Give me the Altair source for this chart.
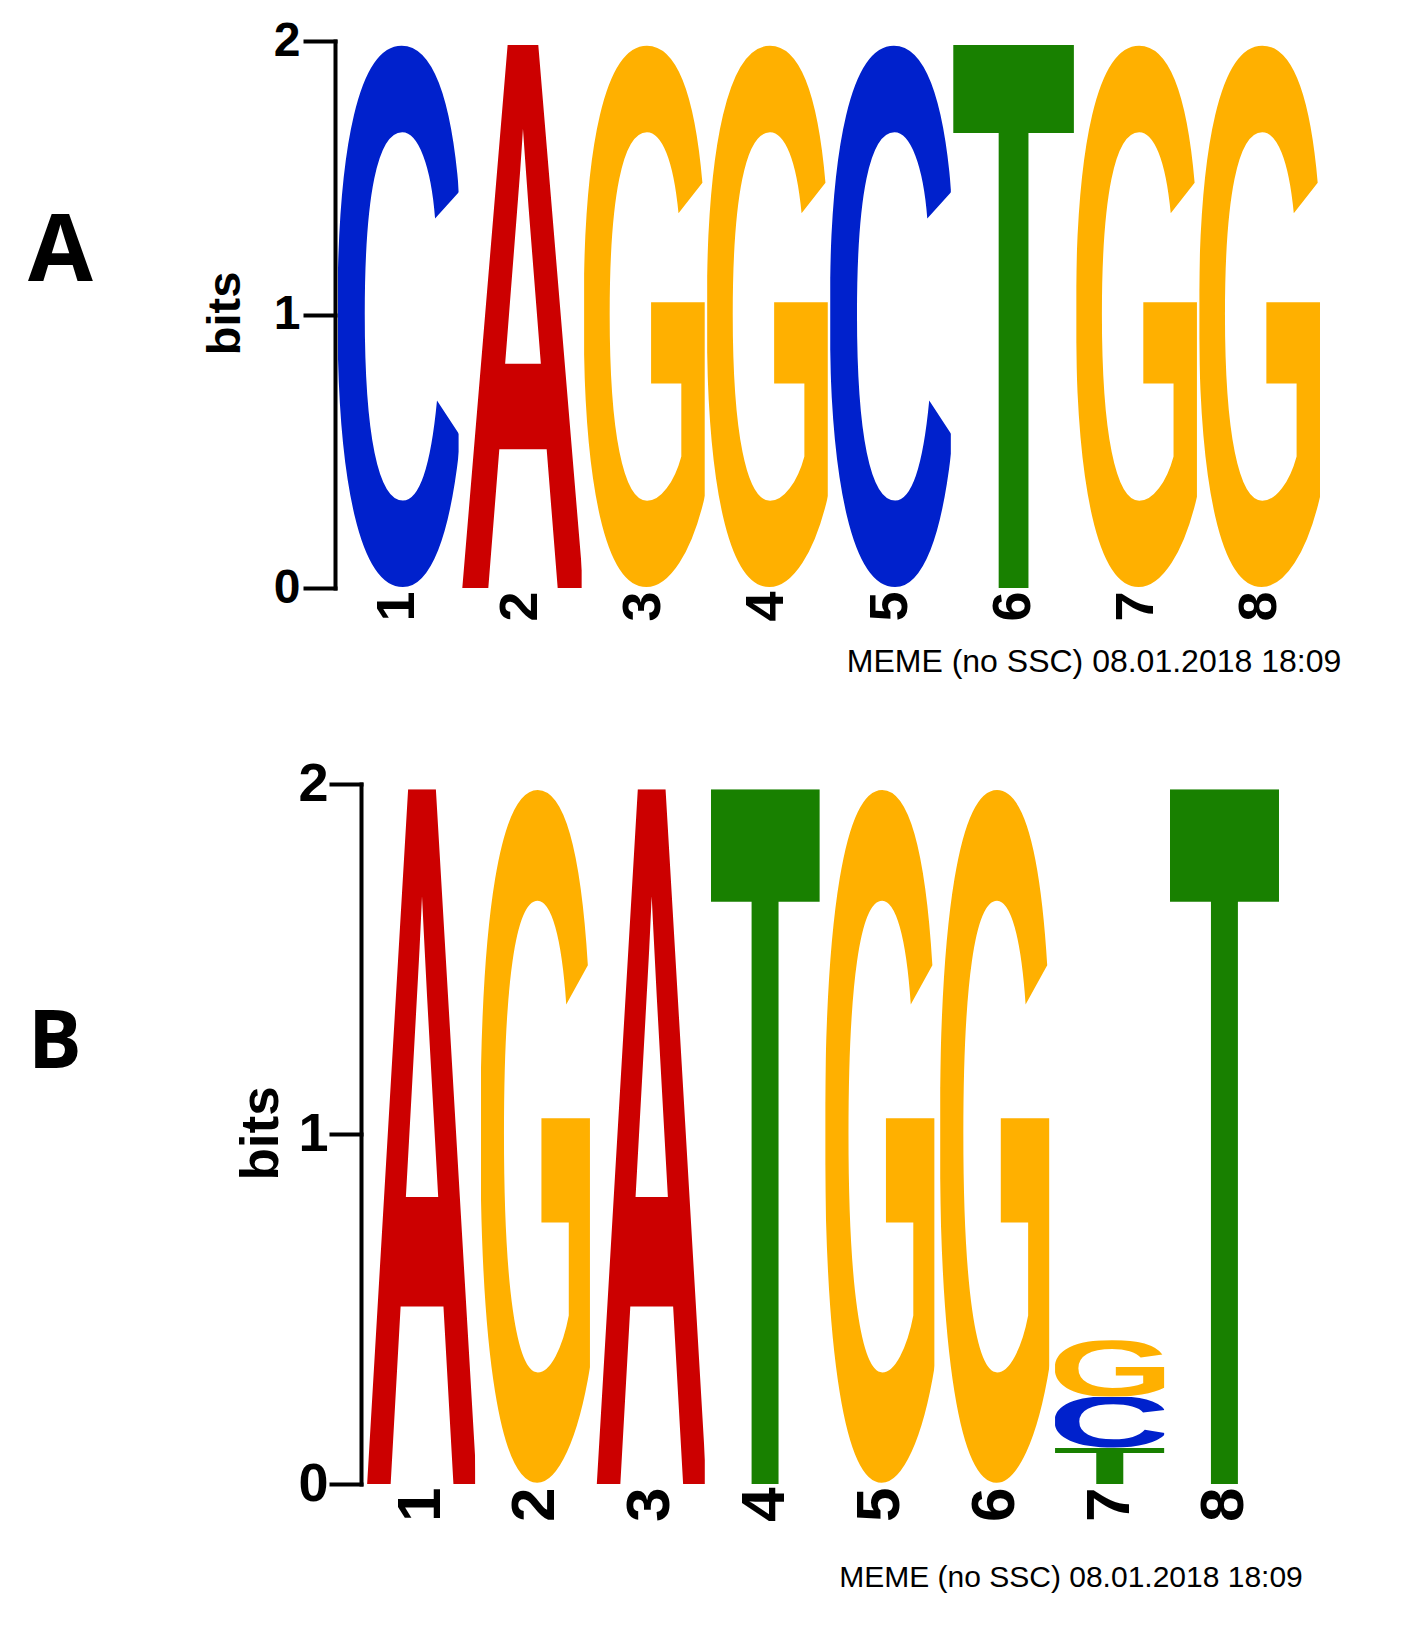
import base64
import altair as alt
import pandas as pd

# ---------------- data ----------------
positions = [1, 2, 3, 4, 5, 6, 7, 8]

a_pos = [1, 2, 3, 4, 5, 6, 7, 8]
a_letter = ["C", "A", "G", "G", "C", "T", "G", "G"]
a_bits = [1.985, 1.985, 1.985, 1.985, 1.985, 1.985, 1.985, 1.985]

b_pos = [1, 2, 3, 4, 5, 6, 7, 7, 7, 8]
b_letter = ["A", "G", "A", "T", "G", "G", "T", "C", "G", "T"]
b_bits = [1.985, 1.985, 1.985, 1.985, 1.985, 1.985, 0.103, 0.147, 0.161, 1.985]

y_ticks = [0, 1, 2]
panel_labels = ["A", "B"]
caption = "MEME (no SSC) 08.01.2018 18:09"

letter_colors = {"A": "#CC0000", "C": "#0021CC", "G": "#FFB000", "T": "#188000"}

# glyph boxes (font units, font-size 1000) used to stretch each letter to its cell
GLYPH_BOX = {
    "A": (18, -688, 668, 688),
    "C": (44, -699, 640, 710),
    "G": (44, -699, 670, 710),
    "T": (14, -688, 583, 688),
}
LETTER_FONT = "Liberation Sans"


def letter_url(ch):
    x, y, w, h = GLYPH_BOX[ch]
    svg = (
        f'<svg xmlns="http://www.w3.org/2000/svg" width="{w}" height="{h}" '
        f'viewBox="{x} {y} {w} {h}" preserveAspectRatio="none">'
        f'<text x="0" y="0" font-family="{LETTER_FONT}, Arial, Helvetica, sans-serif" '
        f'font-weight="bold" font-size="1000" fill="{letter_colors[ch]}">{ch}</text></svg>'
    )
    return "data:image/svg+xml;base64," + base64.b64encode(svg.encode("utf-8")).decode("ascii")


def stack(pos, letters, bits):
    rows = []
    top = {}
    for p, l, b in zip(pos, letters, bits):
        y0 = top.get(p, 0.0)
        rows.append({"pos": p, "letter": l, "y0": y0, "y1": y0 + b, "url": letter_url(l)})
        top[p] = y0 + b
    return pd.DataFrame(rows)


def panel(df, label, cfg):
    letters = alt.Chart(df).mark_image(aspect=False).encode(
        x=alt.X(
            "pos:O",
            scale=alt.Scale(type="band", domain=positions,
                            paddingInner=cfg["pin"], paddingOuter=cfg["pout"]),
            axis=alt.Axis(
                title=None, labelAngle=270, labelAlign="right", labelBaseline="middle",
                labelFont="Liberation Sans", labelFontWeight="bold",
                labelFontSize=cfg["xfs"], labelColor="black", labelPadding=3,
                domain=False, ticks=False, grid=False,
            ),
        ),
        y=alt.Y(
            "y0:Q",
            scale=alt.Scale(domain=[0, 2], nice=False, zero=True),
            axis=alt.Axis(
                values=y_ticks, tickCount=3, labelExpr="format(datum.value, '.0f')",
                labelOverlap=False, title="bits",
                offset=cfg["off"],
                titleFont="Liberation Sans", titleFontWeight="bold",
                titleFontSize=cfg["tfs"], titleColor="black", titleAngle=270,
                titleBaseline="alphabetic", titleAlign="center",
                titleX=cfg["tx"], titleY=cfg["ty"],
                labelFont="Liberation Sans", labelFontWeight="bold",
                labelFontSize=cfg["yfs"], labelColor="black", labelPadding=cfg["lp"],
                tickSize=30, tickWidth=4, tickColor="black", tickCap="square",
                domainWidth=4, domainColor="black", domainCap="square",
                grid=False,
            ),
        ),
        y2="y1:Q",
        url="url:N",
    )
    lab = alt.Chart(alt.Data(values=[{"t": label}])).mark_text(
        align="left", baseline="middle", font="Open Sans", fontWeight="bold",
        fontSize=cfg["lfs"], color="black",
    ).encode(x=alt.value(cfg["lx"]), y=alt.value(cfg["ly"]), text="t:N")
    cap = alt.Chart(alt.Data(values=[{"t": caption}])).mark_text(
        align="center", baseline="middle", font="Liberation Sans",
        fontSize=cfg["cfs"], color="black",
    ).encode(x=alt.value(cfg["cx"]), y=alt.value(cfg["cy"]), text="t:N")
    return alt.layer(letters, lab, cap).properties(width=cfg["w"], height=cfg["h"])


cfg_a = dict(w=988, h=547, pin=0.02, pout=0.0244, off=0, xfs=54, yfs=48, tfs=47, lp=5,
             tx=-96, ty=272, lfs=94, lx=-307, ly=212, cfs=32, cx=759, cy=621)
cfg_b = dict(w=975, h=700, pin=0.05, pout=0.27, off=-26, xfs=62, yfs=54, tfs=53, lp=3,
             tx=-84, ty=349, lfs=80, lx=-307, ly=260, cfs=30, cx=736, cy=794)

pa = panel(stack(a_pos, a_letter, a_bits), panel_labels[0], cfg_a)
pb = panel(stack(b_pos, b_letter, b_bits), panel_labels[1], cfg_b)

chart = (
    alt.vconcat(pa, pb, spacing=79)
    .properties(padding={"left": 20, "top": 9, "right": 5, "bottom": 5},
                background="white")
    .configure_view(strokeWidth=0)
)

chart.save("out.html", embed_options={"renderer": "svg", "actions": False})
